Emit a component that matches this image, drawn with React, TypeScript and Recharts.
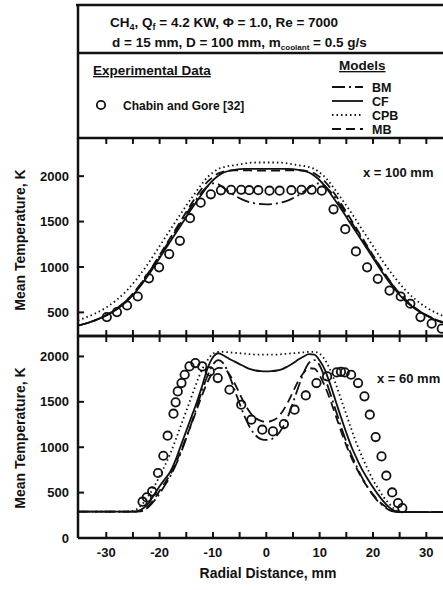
import { ComposedChart, Line, Scatter, XAxis, YAxis, ReferenceLine } from "recharts";

const FONT = '"Liberation Sans", Arial, Helvetica, sans-serif';
const INK = "#111";

// radial positions (mm) for the model curves, x = 100 mm
const rTop = [-35.3, -34, -32, -30, -28, -26, -24, -22, -20, -18, -16, -14, -12, -11, -10, -9, -8, -6, -4, -2, 0, 2, 4, 6, 8, 9, 10, 11, 12, 14, 16, 18, 20, 22, 24, 26, 28, 30, 32, 34, 35];
const bmTop = [355, 375, 415, 468, 540, 640, 775, 940, 1120, 1305, 1490, 1670, 1830, 1890, 1920, 1910, 1870, 1790, 1730, 1700, 1690, 1700, 1730, 1790, 1870, 1910, 1920, 1890, 1830, 1670, 1490, 1305, 1120, 940, 775, 640, 540, 468, 415, 375, 360];
const cfTop = [355, 375, 415, 465, 535, 630, 760, 920, 1100, 1280, 1460, 1640, 1810, 1890, 1955, 2005, 2040, 2070, 2080, 2080, 2080, 2080, 2080, 2070, 2040, 2005, 1955, 1890, 1810, 1640, 1460, 1280, 1100, 920, 760, 630, 535, 465, 410, 375, 360];
const cpbTop = [410, 440, 490, 555, 640, 750, 890, 1050, 1230, 1410, 1590, 1760, 1920, 1990, 2040, 2080, 2100, 2120, 2140, 2150, 2150, 2150, 2140, 2120, 2100, 2080, 2040, 1990, 1920, 1760, 1590, 1410, 1230, 1050, 890, 750, 640, 555, 490, 440, 415];
const mbTop = [355, 375, 415, 470, 545, 645, 780, 945, 1130, 1320, 1510, 1700, 1870, 1940, 1990, 2030, 2050, 2065, 2065, 2060, 2060, 2060, 2065, 2065, 2050, 2030, 1990, 1940, 1870, 1700, 1510, 1320, 1130, 945, 780, 645, 545, 470, 415, 375, 360];

// Chabin and Gore [32], x = 100 mm
const expTopR = [-29.9, -28, -26.1, -24.1, -22, -20.1, -18.2, -16.2, -14.3, -12.3, -10.4, -8.5, -6.6, -4.7, -3.2, -1.5, 0.6, 2.5, 4.7, 6.6, 8.5, 10.4, 12.6, 14.8, 16.8, 18.9, 20.9, 23.1, 25.2, 27, 28.9, 31, 32.9];
const expTopT = [448, 503, 576, 675, 875, 996, 1142, 1288, 1537, 1708, 1800, 1844, 1850, 1850, 1845, 1845, 1840, 1840, 1845, 1850, 1850, 1840, 1635, 1416, 1171, 996, 869, 740, 675, 595, 448, 376, 321];

// radial positions (mm) for the model curves, x = 60 mm
const rBot = [-35.3, -30, -26, -25, -24, -23, -22, -21, -20, -19, -18, -17, -16, -15, -14, -13, -12, -11, -10, -9, -8, -7, -6, -5, -4, -3, -2, -1, 0, 1, 2, 3, 4, 5, 6, 7, 8, 9, 10, 11, 12, 13, 14, 15, 16, 17, 18, 19, 20, 21, 22, 23, 24, 25, 26, 30, 35];
const bmBot = [290, 290, 290, 290, 290, 305, 345, 410, 490, 580, 680, 800, 940, 1100, 1270, 1450, 1630, 1790, 1910, 1960, 1920, 1800, 1640, 1480, 1330, 1210, 1130, 1090, 1080, 1090, 1130, 1210, 1330, 1490, 1660, 1820, 1930, 1960, 1900, 1760, 1590, 1410, 1230, 1060, 910, 780, 660, 560, 470, 400, 350, 310, 290, 285, 285, 285, 285];
const cfBot = [290, 290, 290, 290, 300, 330, 390, 480, 570, 650, 730, 860, 1020, 1180, 1340, 1500, 1680, 1870, 1990, 2035, 2010, 1975, 1945, 1915, 1885, 1860, 1845, 1838, 1836, 1838, 1845, 1860, 1890, 1925, 1965, 2000, 2025, 2020, 1955, 1850, 1690, 1510, 1330, 1160, 1000, 870, 750, 650, 560, 475, 400, 340, 300, 285, 285, 285, 285];
const cpbBot = [290, 290, 290, 300, 330, 390, 470, 570, 680, 800, 930, 1080, 1240, 1400, 1560, 1720, 1860, 1960, 2030, 2050, 2050, 2045, 2040, 2035, 2030, 2025, 2020, 2020, 2020, 2020, 2020, 2025, 2030, 2035, 2040, 2045, 2050, 2050, 2030, 1960, 1850, 1700, 1530, 1360, 1190, 1030, 890, 760, 640, 540, 450, 380, 320, 290, 285, 285, 285];
const mbBot = [290, 290, 290, 290, 290, 310, 360, 430, 520, 610, 700, 820, 960, 1110, 1260, 1420, 1580, 1720, 1830, 1875, 1870, 1810, 1710, 1590, 1470, 1380, 1320, 1290, 1280, 1290, 1320, 1390, 1490, 1610, 1730, 1820, 1870, 1865, 1790, 1670, 1520, 1350, 1180, 1020, 880, 760, 650, 560, 480, 410, 360, 320, 295, 285, 285, 285, 285];

// Chabin and Gore [32], x = 60 mm
const expBotR = [-23.2, -22.4, -21.4, -20.3, -19.3, -18.5, -17.4, -17, -16.6, -15.9, -15.3, -14.4, -13.3, -12, -10.6, -9.1, -6.9, -4.7, -2.8, -0.75, 1.25, 3.3, 5.3, 7.4, 9.4, 11.4, 13.2, 14, 14.7, 15.9, 17.2, 18.4, 19.4, 20.5, 21.6, 22.5, 23.6, 24.7, 25.5];
const expBotT = [400, 447, 513, 716, 906, 1127, 1369, 1494, 1615, 1707, 1798, 1890, 1927, 1890, 1835, 1762, 1633, 1468, 1303, 1193, 1174, 1255, 1413, 1570, 1707, 1780, 1824, 1830, 1824, 1798, 1707, 1560, 1358, 1112, 899, 686, 502, 385, 330];

const xTicks = [-30, -25, -20, -15, -10, -5, 0, 5, 10, 15, 20, 25, 30];
const topTicks = [500, 1000, 1500, 2000];
const botTicks = [0, 500, 1000, 1500, 2000];

const models = [
  { key: "bm", name: "BM", dash: "13 4 2 4" },
  { key: "cf", name: "CF", dash: undefined },
  { key: "cpb", name: "CPB", dash: "1.5 3" },
  { key: "mb", name: "MB", dash: "9 5" },
];

const topData = rTop.map((r, i) => ({ x: r, bm: bmTop[i], cf: cfTop[i], cpb: cpbTop[i], mb: mbTop[i] }));
const botData = rBot.map((r, i) => ({ x: r, bm: bmBot[i], cf: cfBot[i], cpb: cpbBot[i], mb: mbBot[i] }));
const topExp = expTopR.map((r, i) => ({ x: r, t: expTopT[i] }));
const botExp = expBotR.map((r, i) => ({ x: r, t: expBotT[i] }));

const X_MIN = -35.3;
const X_MAX = 35;
const tickStyle = { fontSize: 13, fontWeight: 700, fill: INK, fontFamily: FONT };
const axisLine = { stroke: INK, strokeWidth: 2.5 };

const OpenCircle = (p: any) => (
  <circle cx={p.cx} cy={p.cy} r={4.2} fill="none" stroke={INK} strokeWidth={1.8} />
);

function Panel({ data, exp, domain, yTicks, showLabels }: any) {
  const [lo, hi] = domain;
  const dy = (hi - lo) * 0.03; // inward tick length, about 6 px
  const dx = (X_MAX - X_MIN) * 0.016;
  const seg = (a: any, b: any, k: string) => (
    <ReferenceLine key={k} segment={[a, b]} stroke={INK} strokeWidth={2} ifOverflow="visible" />
  );
  return (
    <ComposedChart
      width={470}
      height={showLabels ? 265 : 220}
      data={data}
      margin={{ top: 10, right: 17, bottom: showLabels ? 0 : 10, left: 0 }}
    >
      <XAxis
        xAxisId="frameTop"
        orientation="top"
        dataKey="x"
        type="number"
        domain={[X_MIN, X_MAX]}
        allowDataOverflow
        ticks={xTicks}
        tick={false}
        tickLine={false}
        height={1}
        axisLine={axisLine}
      />
      <XAxis
        dataKey="x"
        type="number"
        domain={[X_MIN, X_MAX]}
        allowDataOverflow
        ticks={xTicks}
        interval={0}
        tickFormatter={(v: number) => (v % 10 === 0 ? String(v) : "")}
        tick={showLabels ? tickStyle : false}
        tickLine={false}
        axisLine={axisLine}
        tickSize={0}
        tickMargin={10}
        height={showLabels ? 52 : 1}
      />
      <YAxis
        type="number"
        domain={domain}
        allowDataOverflow
        ticks={yTicks}
        interval={0}
        width={78}
        tick={tickStyle}
        tickLine={false}
        axisLine={axisLine}
        tickSize={0}
        tickMargin={9}
      />
      <Line
        xAxisId="frameTop"
        dataKey="cf"
        stroke="none"
        dot={false}
        activeDot={false}
        legendType="none"
        isAnimationActive={false}
      />
      {xTicks.map((t) => seg({ x: t, y: hi }, { x: t, y: hi - dy }, `t${t}`))}
      {xTicks.map((t) => seg({ x: t, y: lo }, { x: t, y: lo + dy }, `b${t}`))}
      {yTicks.map((t: number) => seg({ x: X_MIN, y: t }, { x: X_MIN + dx, y: t }, `y${t}`))}
      {models.map((m) => (
        <Line
          key={m.key}
          dataKey={m.key}
          type="monotone"
          stroke={INK}
          strokeWidth={1.8}
          strokeDasharray={m.dash}
          dot={false}
          isAnimationActive={false}
        />
      ))}
      <Scatter data={exp} dataKey="t" shape={OpenCircle} isAnimationActive={false} />
    </ComposedChart>
  );
}

export default function App() {
  const txt = { fontFamily: FONT, fontWeight: 700, fill: INK } as const;
  return (
    <div
      style={{
        position: "absolute",
        left: 0,
        top: 0,
        width: 443,
        height: 590,
        overflow: "hidden",
        background: "#fff",
      }}
    >
      <div style={{ position: "absolute", left: 0, top: 127 }}>
        <Panel data={topData} exp={topExp} domain={[240, 2420]} yTicks={topTicks} showLabels={false} />
      </div>
      <div style={{ position: "absolute", left: 0, top: 325 }}>
        <Panel data={botData} exp={botExp} domain={[0, 2225]} yTicks={botTicks} showLabels />
      </div>
      <svg
        width={443}
        height={590}
        style={{ position: "absolute", left: 0, top: 0, pointerEvents: "none" }}
      >
        {/* header box */}
        <line x1={76} y1={5} x2={443} y2={5} stroke={INK} strokeWidth={2.5} />
        <line x1={78} y1={4} x2={78} y2={139} stroke={INK} strokeWidth={2.5} />
        <line x1={78} y1={53} x2={443} y2={53} stroke={INK} strokeWidth={2.5} />

        <text x={110} y={27} fontSize={13.5} {...txt}>
          CH<tspan fontSize={9} dy={3}>4</tspan>
          <tspan dy={-3}>, Q</tspan>
          <tspan fontSize={9} dy={3}>f</tspan>
          <tspan dy={-3}> = 4.2 KW, Φ = 1.0, Re = 7000</tspan>
        </text>
        <text x={112} y={47} fontSize={13.5} {...txt}>
          d = 15 mm, D = 100 mm, m<tspan fontSize={8} dy={3}>coolant</tspan>
          <tspan dy={-3}> = 0.5 g/s</tspan>
        </text>

        {/* legend */}
        <text x={93} y={75} fontSize={13.5} {...txt} textDecoration="underline">
          Experimental Data
        </text>
        <circle cx={101} cy={105} r={4.2} fill="none" stroke={INK} strokeWidth={1.8} />
        <text x={123} y={110} fontSize={12} {...txt}>
          Chabin and Gore [32]
        </text>
        <text x={339} y={70} fontSize={13.5} {...txt} textDecoration="underline">
          Models
        </text>
        {models.map((m, i) => {
          const y = 87 + i * 14;
          return (
            <g key={m.key}>
              <line x1={332} y1={y} x2={363} y2={y} stroke={INK} strokeWidth={1.8} strokeDasharray={m.dash} />
              <text x={372} y={y + 5} fontSize={12.5} {...txt}>
                {m.name}
              </text>
            </g>
          );
        })}

        {/* panel notes */}
        <text x={363} y={177} fontSize={13} {...txt}>
          x = 100 mm
        </text>
        <text x={377} y={383} fontSize={13} {...txt}>
          x = 60 mm
        </text>

        {/* axis titles */}
        <text x={25} y={240} fontSize={14} {...txt} textAnchor="middle" transform="rotate(-90 25 240)">
          Mean Temperature, K
        </text>
        <text x={25} y={438} fontSize={14} {...txt} textAnchor="middle" transform="rotate(-90 25 438)">
          Mean Temperature, K
        </text>
        <text x={268} y={578} fontSize={14} {...txt} textAnchor="middle">
          Radial Distance, mm
        </text>
      </svg>
    </div>
  );
}
